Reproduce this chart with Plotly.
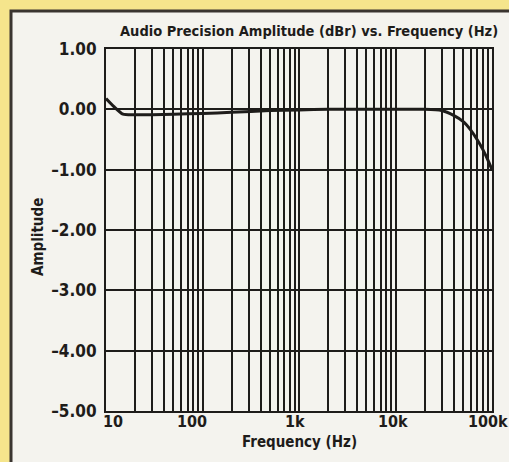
import math
import plotly.graph_objects as go

# ---- data ----
freq_hz = [10, 12, 15, 20, 30, 50, 100, 200, 500, 1000, 2000, 5000, 10000,
           20000, 30000, 40000, 50000, 60000, 70000, 80000, 90000, 100000]
amplitude_dbr = [0.18, 0.05, -0.08, -0.09, -0.09, -0.08, -0.07, -0.05, -0.02,
                 -0.01, 0.0, 0.0, 0.0, 0.0, -0.02, -0.1, -0.2, -0.34, -0.5,
                 -0.66, -0.83, -1.0]

y_tick_vals = [1, 0, -1, -2, -3, -4, -5]
y_tick_text = ["1.00", "0.00", "\u20131.00", "\u20132.00", "\u20133.00", "\u20134.00", "\u20135.00"]

decades = [10, 100, 1000, 10000, 100000]
decade_labels = ["10", "100", "1k", "10k", "100k"]
decade_label_shift = [7, -11, -4, -3, -4]

grid_vals = []
for d in decades[:-1]:
    for m in range(1, 10):
        grid_vals.append(d * m)
grid_vals.append(decades[-1])

W, H = 509, 462
L, R, T, B = 106, 17, 49, 51
PW, PH = W - L - R, H - T - B

def px_x(px):
    return (px - L) / PW

def px_y(py):
    return (H - B - py) / PH

FONT = "DejaVu Sans Condensed, Liberation Sans Narrow, Arial Narrow, Roboto, sans-serif"
INK = "#1e1c1a"
PANEL = "#f4f3ee"
YELLOW = "#f5e58c"

fig = go.Figure()
fig.add_trace(go.Scatter(
    x=freq_hz, y=amplitude_dbr, mode="lines",
    line=dict(color=INK, width=3, shape="spline", smoothing=0.6),
    hoverinfo="skip", showlegend=False,
))

annotations = [
    dict(text="<b>Audio Precision Amplitude (dBr) vs. Frequency (Hz)</b>",
         xref="paper", yref="paper", x=px_x(309), y=px_y(31),
         xanchor="center", yanchor="middle", showarrow=False,
         font=dict(family=FONT, size=14.5, color=INK)),
    dict(text="<b>Amplitude</b>", textangle=-90,
         xref="paper", yref="paper", x=px_x(38), y=px_y(237),
         xanchor="center", yanchor="middle", showarrow=False,
         font=dict(family=FONT, size=15, color=INK)),
    dict(text="<b>Frequency (Hz)</b>",
         xref="paper", yref="paper", x=px_x(299), y=px_y(442),
         xanchor="center", yanchor="middle", showarrow=False,
         font=dict(family=FONT, size=15, color=INK)),
]
for d, lab, sh in zip(decades, decade_labels, decade_label_shift):
    # annotation x on a log axis is given in log10 units
    annotations.append(dict(
        text="<b>%s</b>" % lab, x=math.log10(d), xref="x", y=px_y(421), yref="paper",
        xanchor="center", yanchor="middle", xshift=sh, showarrow=False,
        font=dict(family=FONT, size=16, color=INK)))

fig.update_layout(
    width=W, height=H,
    margin=dict(l=L, r=R, t=T, b=B, pad=0),
    paper_bgcolor=YELLOW,
    plot_bgcolor=PANEL,
    font=dict(family=FONT, size=17, color=INK),
    shapes=[
        dict(type="rect", xref="paper", yref="paper", layer="below",
             x0=px_x(11), x1=px_x(W + 20), y0=px_y(H + 20), y1=px_y(11),
             fillcolor=PANEL, line=dict(color="#3a3530", width=3)),
    ],
    annotations=annotations,
)

fig.update_xaxes(
    type="log", range=[1, 5],
    tickmode="array", tickvals=grid_vals, showticklabels=False,
    showgrid=True, gridcolor=INK, gridwidth=2,
    showline=True, linecolor=INK, linewidth=2, mirror=True,
    ticks="", zeroline=False, fixedrange=True,
)
fig.update_yaxes(
    range=[-5, 1],
    tickmode="array", tickvals=y_tick_vals, ticktext=y_tick_text,
    showgrid=True, gridcolor=INK, gridwidth=2,
    showline=True, linecolor=INK, linewidth=2, mirror=True,
    ticks="", ticklabelstandoff=4,
    tickfont=dict(family=FONT, size=17, color=INK, weight="bold"),
    zeroline=False, fixedrange=True,
)

fig.write_html(
    "out.html",
    config={"displayModeBar": False},
    post_script="document.body.style.margin='0';document.body.style.overflow='hidden';",
)
